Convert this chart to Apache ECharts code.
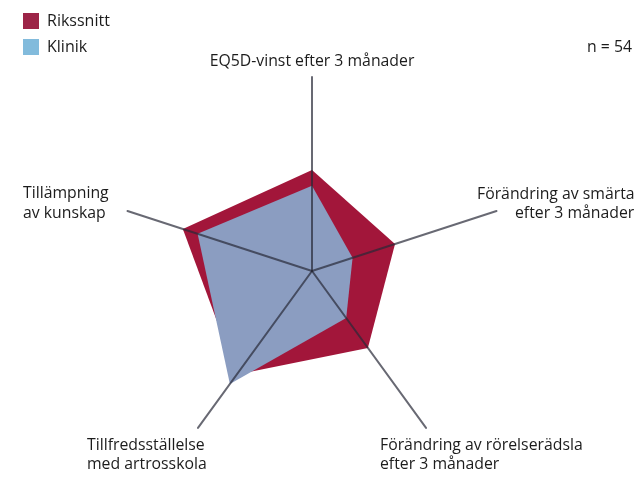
<!DOCTYPE html>
<html>
<head>
<meta charset="utf-8">
<script src="https://cdn.jsdelivr.net/npm/echarts@6/dist/echarts.min.js"></script>
<style>html,body{margin:0;padding:0;background:#fff}#c{width:637px;height:493px}</style>
</head>
<body>
<div id="c"></div>
<script>
// Indicators in ECharts order (top, then counter-clockwise)
var indicators = ['EQ5D-vinst efter 3 månader', 'Tillämpning av kunskap', 'Tillfredsställelse med artrosskola', 'Förändring av rörelserädsla efter 3 månader', 'Förändring av smärta efter 3 månader'];
var seriesNames = ['Rikssnitt', 'Klinik'];
var rikssnitt = [52, 70, 66, 49, 45];
var klinik = [44, 62, 72, 30, 22];
var nText = 'n = 54';

var chart = echarts.init(document.getElementById('c'), null, {renderer: 'canvas'});
var FONT = '"Open Sans", "Noto Sans", sans-serif';
function txt(t, x, y, align) {
  return {type: 'text', x: x, y: y, style: {text: t, fill: '#1c1c1c', font: '15.8px ' + FONT, align: align || 'left', verticalAlign: 'middle'}};
}
chart.setOption({
  animation: false,
  legend: {
    data: seriesNames, orient: 'vertical', left: 23, top: 13, padding: 0, itemWidth: 16, itemHeight: 16, itemGap: 10,
    icon: 'rect', textStyle: {fontSize: 16, color: '#1c1c1c', fontFamily: FONT, padding: [0, 0, 0, 3]}
  },
  radar: {
    center: [312, 271], radius: 194, startAngle: 90, z: 5,
    indicator: indicators.map(function (n) { return {name: n, max: 100, min: 0}; }),
    axisName: {show: false},
    splitLine: {show: false}, splitArea: {show: false},
    axisTick: {show: false}, axisLabel: {show: false},
    axisLine: {lineStyle: {color: 'rgba(40,42,55,0.7)', width: 2}}
  },
  series: [
    {type: 'radar', name: 'Rikssnitt', symbol: 'none', z: 2,
     itemStyle: {color: '#9c2447'}, lineStyle: {width: 0}, areaStyle: {color: '#a2163a', opacity: 1},
     data: [{value: rikssnitt, name: 'Rikssnitt'}]},
    {type: 'radar', name: 'Klinik', symbol: 'none', z: 3,
     itemStyle: {color: '#82bbdc'}, lineStyle: {width: 0}, areaStyle: {color: '#8b9dc1', opacity: 1},
     data: [{value: klinik, name: 'Klinik'}]}
  ],
  graphic: [
    txt(nText, 587, 47),
    txt('EQ5D-vinst efter 3 månader', 312, 61, 'center'),
    txt('Förändring av smärta', 477, 194),
    txt('efter 3 månader', 515, 213),
    txt('Tillämpning', 23, 193),
    txt('av kunskap', 23, 213),
    txt('Tillfredsställelse', 87, 445),
    txt('med artrosskola', 87, 464),
    txt('Förändring av rörelserädsla', 380, 445),
    txt('efter 3 månader', 380, 464)
  ]
});
</script>
</body>
</html>
